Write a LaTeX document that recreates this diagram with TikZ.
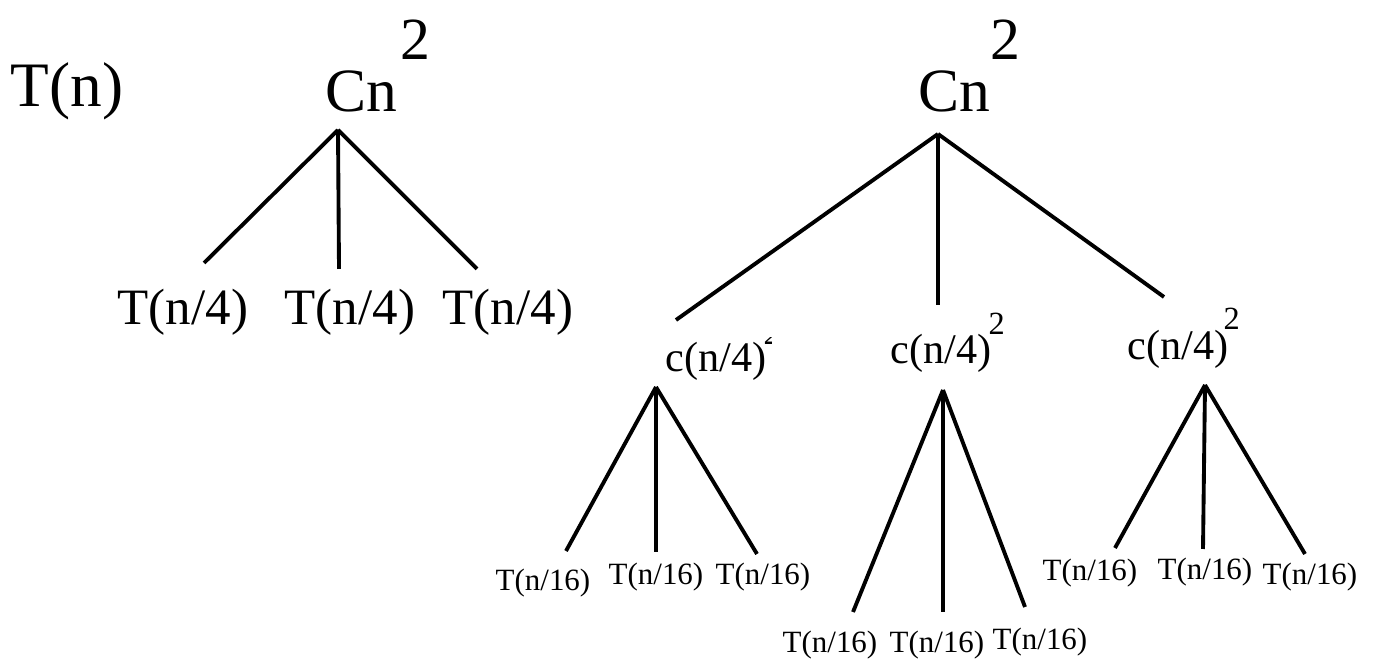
\documentclass[tikz,border=0pt]{standalone}
\usepackage{fontspec}
\setmainfont{Liberation Serif}
\usetikzlibrary{positioning}

\begin{document}
\begin{tikzpicture}[
    x=0.01cm, y=-0.01cm,
    lbl/.style={inner sep=0pt, anchor=base west},
    rootlbl/.style={lbl, font=\fontsize{17.5}{20}\selectfont},
    rootsq/.style={lbl, font=\fontsize{17}{20}\selectfont},
    toplbl/.style={lbl, font=\fontsize{18}{21}\selectfont},
    midlbl/.style={lbl, font=\fontsize{14.5}{17}\selectfont},
    clbl/.style={lbl, font=\fontsize{12}{14}\selectfont},
    csq/.style={lbl, font=\fontsize{9.2}{11}\selectfont},
    leaf/.style={lbl, font=\fontsize{8.8}{10}\selectfont},
    edge/.style={draw, line width=1.1pt}
]
\useasboundingbox (0,0) rectangle (1376,668);

% left: one level
\node[toplbl] (tn) at (10,107) {T(n)};
\node[rootlbl] (cnL) at (325,112) {Cn};
\node[rootsq] (cnLsq) at (400,60) {2};
\node[midlbl] (tq1) at (117,325) {T(n/4)};
\node[midlbl] (tq2) at (284,325) {T(n/4)};
\node[midlbl] (tq3) at (442,325) {T(n/4)};

\coordinate (apL) at (338,130);
\coordinate (eL1) at (204,263);
\coordinate (eL2) at (339,269);
\coordinate (eL3) at (477,269);
\draw[edge] (apL) -- (eL1);
\draw[edge] (apL) -- (eL2);
\draw[edge] (apL) -- (eL3);

% right: two levels
\node[rootlbl] (cnR) at (918,112) {Cn};
\node[rootsq] (cnRsq) at (990,60) {2};
\node[clbl] (c1) at (665,372) {c(n/4)};
\node[clbl] (c2) at (890,364) {c(n/4)};
\node[clbl] (c3) at (1127,360) {c(n/4)};
\begin{scope}
  \clip (763,338) rectangle (771,346);
  \node[csq] (c1sq) at (763,345) {2};
\end{scope}
\node[csq] (c2sq) at (988,335) {2};
\node[csq] (c3sq) at (1223,330) {2};

\coordinate (apR) at (938,134);
\coordinate (eR1) at (676,320);
\coordinate (eR2) at (938,305);
\coordinate (eR3) at (1164,297);
\draw[edge] (apR) -- (eR1);
\draw[edge] (apR) -- (eR2);
\draw[edge] (apR) -- (eR3);

% leaves under c(n/4)
\node[leaf] (l11) at (495,591) {T(n/16)};
\node[leaf] (l12) at (608,585) {T(n/16)};
\node[leaf] (l13) at (715,585) {T(n/16)};
\node[leaf] (l21) at (782,653) {T(n/16)};
\node[leaf] (l22) at (889,653) {T(n/16)};
\node[leaf] (l23) at (992,650) {T(n/16)};
\node[leaf] (l31) at (1042,581) {T(n/16)};
\node[leaf] (l32) at (1157,580) {T(n/16)};
\node[leaf] (l33) at (1262,585) {T(n/16)};

\coordinate (ap1) at (656,387);
\coordinate (e11) at (566,551);
\coordinate (e12) at (656,552);
\coordinate (e13) at (757,554);
\draw[edge] (ap1) -- (e11);
\draw[edge] (ap1) -- (e12);
\draw[edge] (ap1) -- (e13);

\coordinate (ap2) at (943,390);
\coordinate (e21) at (853,612);
\coordinate (e22) at (943,612);
\coordinate (e23) at (1025,607);
\draw[edge] (ap2) -- (e21);
\draw[edge] (ap2) -- (e22);
\draw[edge] (ap2) -- (e23);

\coordinate (ap3) at (1205,385);
\coordinate (e31) at (1115,548);
\coordinate (e32) at (1203,549);
\coordinate (e33) at (1305,554);
\draw[edge] (ap3) -- (e31);
\draw[edge] (ap3) -- (e32);
\draw[edge] (ap3) -- (e33);

\end{tikzpicture}
\end{document}
